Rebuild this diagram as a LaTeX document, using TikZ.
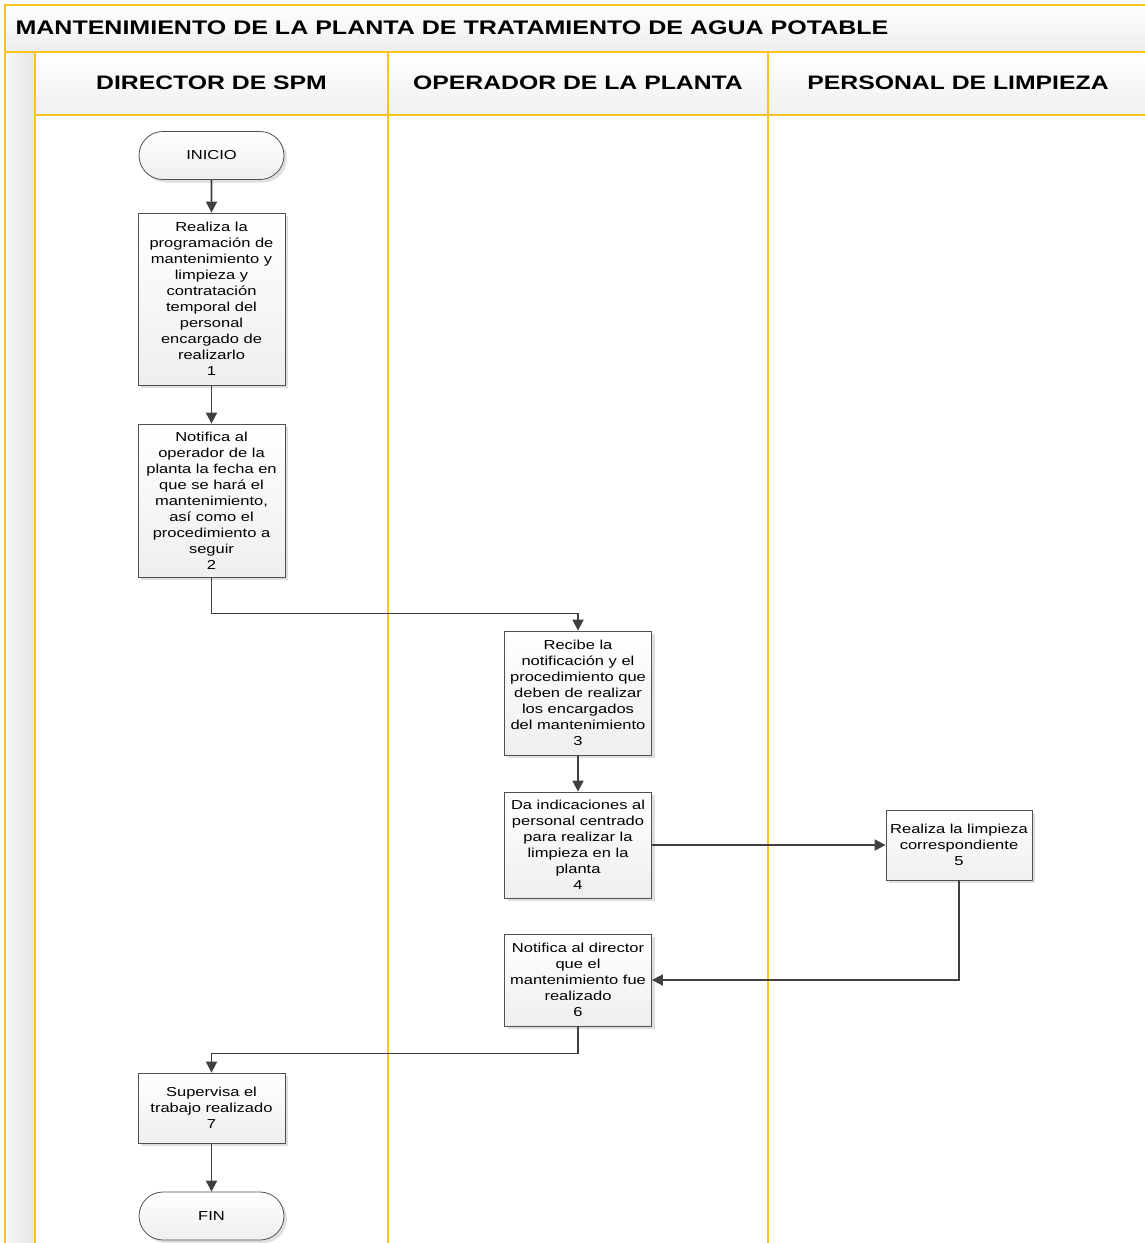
\documentclass[tikz,border=0pt]{standalone}
\usepackage{fontspec}
\setmainfont[FakeStretch=1.27]{Liberation Sans}
\usetikzlibrary{arrows.meta,positioning,shadows,shapes.misc}

\definecolor{laneline}{RGB}{250,196,32}
\definecolor{flowline}{RGB}{64,64,64}
\definecolor{boxline}{RGB}{80,80,80}

\tikzset{
  procbox/.style={draw=boxline,line width=0.8pt,top color=white,bottom color=gray!13,
    drop shadow={shadow xshift=3pt,shadow yshift=-3pt,opacity=0.25},
    align=center,inner sep=1pt,minimum width=147pt,font=\fontsize{13}{16}\selectfont},
  termbox/.style={procbox,rounded rectangle,minimum height=48pt},
  flow/.style={draw=flowline,line width=1.8pt,-{Triangle[length=11pt,width=11pt]}},
  lane/.style={draw=laneline,line width=1.2pt},
  headtext/.style={font=\fontsize{19.5}{22}\selectfont\bfseries}
}

\begin{document}
\begin{tikzpicture}[x=1pt,y=-1pt]
                    \useasboundingbox (0,0) rectangle (1144,1243);
                    % title band, side strip and lane headers
                    \shade[top color=white,bottom color=gray!14] (5,5) rectangle (1150,52);
                    \shade[left color=gray!6,right color=gray!20] (5,52) rectangle (35,1250);
                    \shade[top color=white,bottom color=gray!12] (35,52) rectangle (1150,115);
                    \draw[lane] (5,1250) -- (5,5) -- (1150,5);
                    \draw[lane] (5,52) -- (1150,52);
                    \draw[lane] (35,115) -- (1150,115);
                    \foreach \x in {35,388,768}
                        \draw[lane] (\x,52) -- (\x,1250);
                    \node [headtext,font=\fontsize{19.7}{22}\selectfont\bfseries,anchor=west] (title) at (12,28) {MANTENIMIENTO DE LA PLANTA DE TRATAMIENTO DE AGUA POTABLE};
                    \node [headtext] (director) at (211.5,83) {DIRECTOR DE SPM};
                    \node [headtext] (operador) at (578,83) {OPERADOR DE LA PLANTA};
                    \node [headtext] (limpieza) at (958,83) {PERSONAL DE LIMPIEZA};
                    % steps
                    \node [termbox] (inicio) at (211.5,155.5) {INICIO};
                    \node [procbox,minimum height=172pt] (prog) at (211.5,299) {Realiza la\\programación de\\mantenimiento y\\limpieza y\\contratación\\temporal del\\personal\\encargado de\\realizarlo\\1};
                    \node [procbox,minimum height=153pt] (notif) at (211.5,500.5) {Notifica al\\operador de la\\planta la fecha en\\que se hará el\\mantenimiento,\\así como el\\procedimiento a\\seguir\\2};
                    \node [procbox,minimum height=124pt] (recibe) at (578,693) {Recibe la\\notificación y el\\procedimiento que\\deben de realizar\\los encargados\\del mantenimiento\\3};
                    \node [procbox,minimum height=106pt] (indica) at (578,845) {Da indicaciones al\\personal centrado\\para realizar la\\limpieza en la\\planta\\4};
                    \node [procbox,minimum width=146pt,minimum height=70pt] (limpia) at (959,845) {Realiza la limpieza\\correspondiente\\5};
                    \node [procbox,minimum height=92pt] (avisa) at (578,980) {Notifica al director\\que el\\mantenimiento fue\\realizado\\6};
                    \node [procbox,minimum height=70pt] (supervisa) at (211.5,1108) {Supervisa el\\trabajo realizado\\7};
                    \node [termbox] (fin) at (211.5,1216) {FIN};
                    % connectors
                    \draw[flow] (inicio) -- (prog);
                    \draw[flow] (prog) -- (notif);
                    \draw[flow] (notif.south) -- ++(0,36) -| (recibe.north);
                    \draw[flow] (recibe) -- (indica);
                    \draw[flow] (indica) -- (limpia);
                    \draw[flow] (limpia.south) |- (avisa.east);
                    \draw[flow] (avisa.south) -- ++(0,27) -| (supervisa.north);
                    \draw[flow] (supervisa) -- (fin);
\end{tikzpicture}
\end{document}
